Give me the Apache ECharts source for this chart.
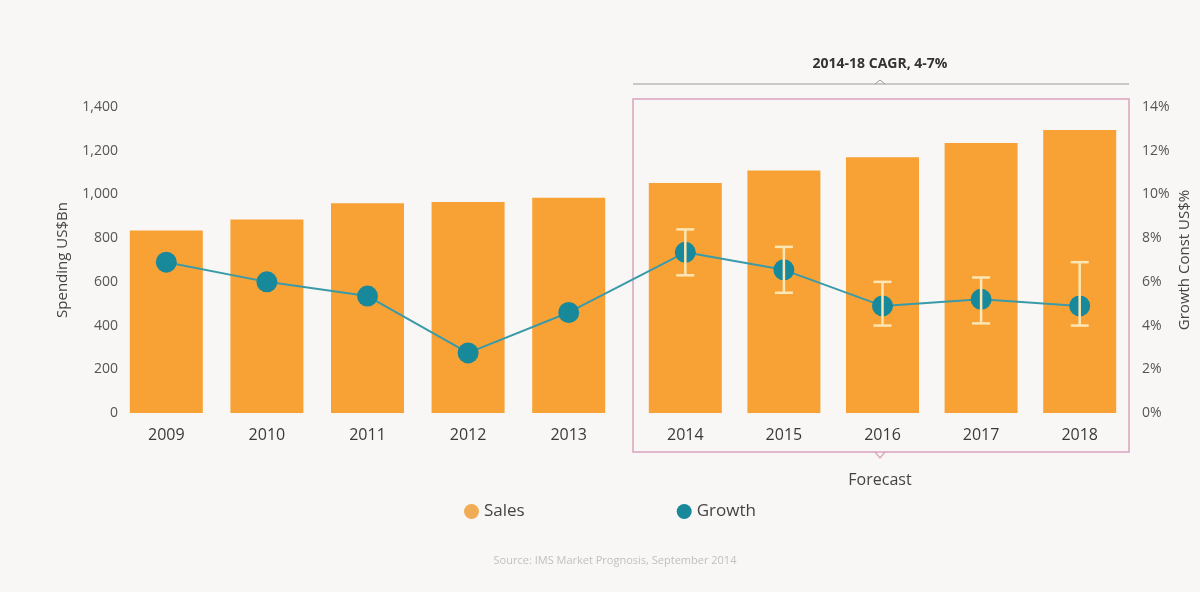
<!DOCTYPE html>
<html>
<head>
<meta charset="utf-8">
<script src="https://cdn.jsdelivr.net/npm/echarts@6/dist/echarts.min.js"></script>
<style>
  html, body { margin: 0; padding: 0; background: #f9f7f5; }
  #chart { width: 1200px; height: 592px; }
</style>
</head>
<body>
<div id="chart"></div>
<script>
// Actual years and forecast years
const actualYears = ['2009', '2010', '2011', '2012', '2013'];
const forecastYears = ['2014', '2015', '2016', '2017', '2018'];

// Spending, US$ billions
const salesActual = [835, 885, 960, 965, 985];
const salesForecast = [1052, 1110, 1170, 1235, 1295];

// Growth, constant US$ %
const growthActual = [6.9, 6.0, 5.35, 2.75, 4.6];
const growthForecast = [7.35, 6.55, 4.9, 5.2, 4.9];

// Forecast growth range
const growthLow = [6.3, 5.5, 4.0, 4.1, 4.0];
const growthHigh = [8.4, 7.6, 6.0, 6.2, 6.9];

const FONT = '"Open Sans", "Noto Sans", sans-serif';
const ORANGE = '#f8a236';
const TEAL = '#17899a';
const LINE = '#3a9aa8';
const RANGE = '#fbe6b4';

const chart = echarts.init(document.getElementById('chart'), null, { renderer: 'canvas' });

const hiddenX = {
  axisLine: { show: false }, axisTick: { show: false },
  axisLabel: { margin: 14, fontFamily: FONT, fontSize: 16, color: '#3a3a3a' }
};

function salesAxis(gridIndex, show) {
  return {
    type: 'value', gridIndex, min: 0, max: 1400, interval: 200,
    position: 'left',
    name: show ? 'Spending US$Bn' : '',
    nameLocation: 'middle', nameGap: 46, nameRotate: 90,
    nameTextStyle: { fontFamily: FONT, fontSize: 15, color: '#444' },
    axisLine: { show: false }, axisTick: { show: false },
    splitLine: { show: false },
    axisLabel: {
      show, margin: -2, fontFamily: FONT, fontSize: 14, color: '#555',
      formatter: v => v.toLocaleString('en-US')
    }
  };
}

function growthAxis(gridIndex, show) {
  return {
    type: 'value', gridIndex, min: 0, max: 14, interval: 2,
    position: 'right',
    name: show ? 'Growth Const US$%' : '',
    nameLocation: 'middle', nameGap: 48, nameRotate: 90,
    nameTextStyle: { fontFamily: FONT, fontSize: 15, color: '#444' },
    axisLine: { show: false }, axisTick: { show: false },
    splitLine: { show: false },
    axisLabel: {
      show, margin: 13, fontFamily: FONT, fontSize: 14, color: '#555',
      formatter: v => v + '%'
    }
  };
}

// Vertical range bars with caps for forecast growth
function renderRange(params, api) {
  const x = api.value(0);
  const lo = api.coord([x, api.value(1)]);
  const hi = api.coord([x, api.value(2)]);
  const cap = 9;
  const style = { stroke: RANGE, lineWidth: 2.5 };
  return {
    type: 'group',
    children: [
      { type: 'line', shape: { x1: lo[0], y1: lo[1], x2: hi[0], y2: hi[1] }, style },
      { type: 'line', shape: { x1: lo[0] - cap, y1: lo[1], x2: lo[0] + cap, y2: lo[1] }, style },
      { type: 'line', shape: { x1: hi[0] - cap, y1: hi[1], x2: hi[0] + cap, y2: hi[1] }, style }
    ]
  };
}

const lineSeries = (xi, yi, data) => ({
  name: 'Growth', type: 'line', xAxisIndex: xi, yAxisIndex: yi, data,
  z: 4,
  symbol: 'circle', symbolSize: 21,
  lineStyle: { color: LINE, width: 2 },
  itemStyle: { color: TEAL },
  emphasis: { disabled: true }
});

const barSeries = (xi, yi, data) => ({
  name: 'Sales', type: 'bar', xAxisIndex: xi, yAxisIndex: yi, data,
  barWidth: 73, z: 2,
  itemStyle: { color: ORANGE },
  emphasis: { disabled: true }
});

const decorations = [
  { id: 'box', type: 'rect', shape: { x: 633, y: 99, width: 496, height: 353 },
    style: { fill: 'none', stroke: '#d9a3bd', lineWidth: 1.5 }, z: 0 },
  { id: 'boxNotch', type: 'polyline', shape: { points: [[875, 452], [880, 458], [885, 452]] },
    style: { fill: 'none', stroke: '#d9a3bd', lineWidth: 1.2 }, z: 0 },
  { id: 'bracket', type: 'line', shape: { x1: 633, y1: 84, x2: 1129, y2: 84 },
    style: { stroke: '#9a9a9a', lineWidth: 1 }, z: 0 },
  { id: 'bracketNotch', type: 'polyline', shape: { points: [[875, 84], [880, 80], [885, 84]] },
    style: { fill: 'none', stroke: '#9a9a9a', lineWidth: 1 }, z: 0 },
  { id: 'cagr', type: 'text', x: 880, y: 64,
    style: { text: '2014-18 CAGR, 4-7%', fontFamily: FONT, fontSize: 14, fontWeight: 'bold',
      fill: '#333', align: 'center', verticalAlign: 'middle' } },
  { id: 'forecast', type: 'text', x: 880, y: 480,
    style: { text: 'Forecast', fontFamily: FONT, fontSize: 16, fill: '#444',
      align: 'center', verticalAlign: 'middle' } },
  { id: 'source', type: 'text', x: 615, y: 561,
    style: { text: 'Source: IMS Market Prognosis, September 2014', fontFamily: FONT, fontSize: 11,
      fill: '#c2c0be', align: 'center', verticalAlign: 'middle' } }
];

chart.setOption({
  backgroundColor: '#f9f7f5',
  animation: false,
  grid: [
    { left: 116, right: 1200 - 619, top: 107, bottom: 592 - 413 },
    { left: 636, right: 1200 - 1129, top: 107, bottom: 592 - 413 }
  ],
  xAxis: [
    Object.assign({ type: 'category', gridIndex: 0, data: actualYears }, hiddenX),
    Object.assign({ type: 'category', gridIndex: 1, data: forecastYears }, hiddenX)
  ],
  yAxis: [
    salesAxis(0, true),
    Object.assign(growthAxis(0, false), { show: false }),
    Object.assign(salesAxis(1, false), { show: false }),
    growthAxis(1, true)
  ],
  legend: {
    data: [
      { name: 'Sales', itemStyle: { color: '#f0ad55' } },
      { name: 'Growth' }
    ],
    left: 459, top: 498,
    icon: 'circle', itemWidth: 15, itemHeight: 15, itemGap: 152,
    textStyle: { fontFamily: FONT, fontSize: 17, color: '#444' },
    selectedMode: false
  },
  series: [
    barSeries(0, 0, salesActual),
    barSeries(1, 2, salesForecast),
    lineSeries(0, 1, growthActual),
    lineSeries(1, 3, growthForecast),
    {
      name: 'Range', type: 'custom', xAxisIndex: 1, yAxisIndex: 3, z: 10,
      renderItem: renderRange,
      data: forecastYears.map((y, i) => [i, growthLow[i], growthHigh[i]])
    }
  ],
  graphic: decorations
});

// Join the last actual growth point to the first forecast point across the two grids
const pA = chart.convertToPixel({ xAxisIndex: 0, yAxisIndex: 1 },
  [actualYears.length - 1, growthActual[growthActual.length - 1]]);
const pB = chart.convertToPixel({ xAxisIndex: 1, yAxisIndex: 3 }, [0, growthForecast[0]]);

chart.setOption({
  graphic: decorations.concat([{
    id: 'growthLink', type: 'line', z: 3,
    shape: { x1: pA[0], y1: pA[1], x2: pB[0], y2: pB[1] },
    style: { stroke: LINE, lineWidth: 2 }
  }])
});
</script>
</body>
</html>
